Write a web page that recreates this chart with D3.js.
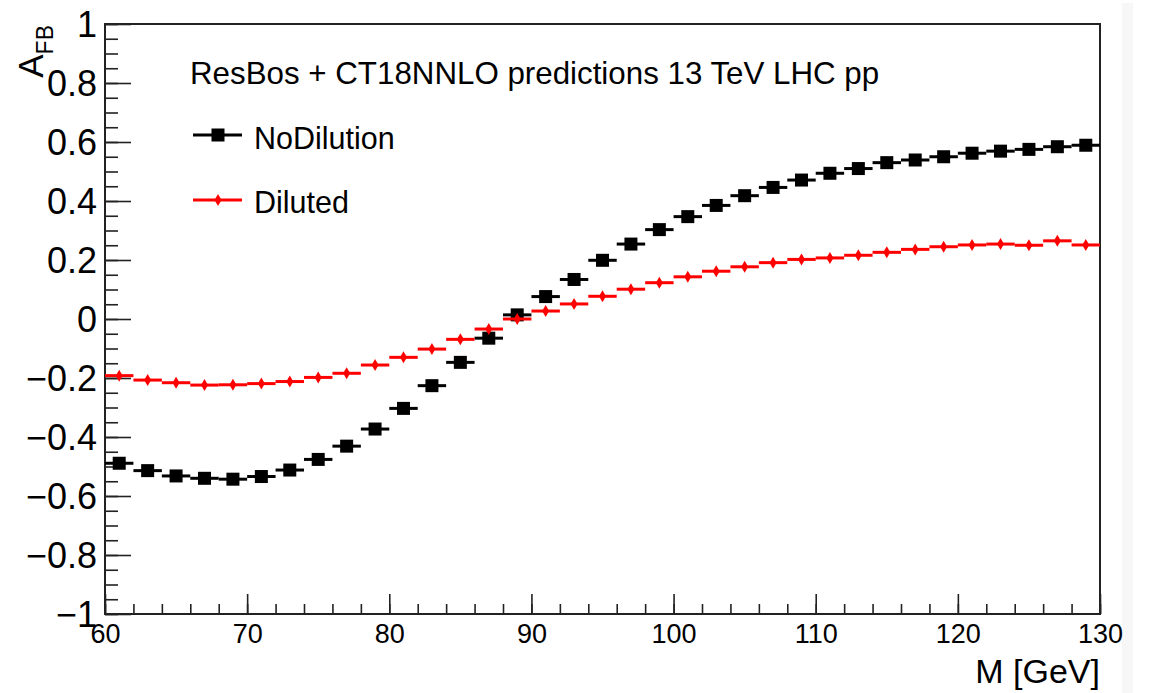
<!DOCTYPE html>
<html>
<head>
<meta charset="utf-8">
<script src="https://cdn.jsdelivr.net/npm/d3@7"></script>
<style>
  body { margin: 0; background: #fff; }
  svg { display: block; font-family: "Liberation Sans", Arial, Helvetica, sans-serif; }
</style>
</head>
<body>
<div class="chart"></div>
<script>
// Bin centres (GeV), bin width 2 GeV
var mass = [61, 63, 65, 67, 69, 71, 73, 75, 77, 79, 81, 83, 85, 87, 89, 91, 93, 95,
  97, 99, 101, 103, 105, 107, 109, 111, 113, 115, 117, 119, 121, 123, 125, 127, 129];
var binWidth = 2;

var noDilution = [-0.489, -0.514, -0.532, -0.540, -0.543, -0.534, -0.512, -0.476, -0.431,
  -0.373, -0.303, -0.226, -0.147, -0.065, 0.014, 0.076, 0.134, 0.199, 0.254, 0.303, 0.347,
  0.385, 0.418, 0.446, 0.471, 0.494, 0.510, 0.530, 0.539, 0.550, 0.562, 0.569, 0.575, 0.584, 0.589];

var diluted = [-0.192, -0.207, -0.216, -0.224, -0.223, -0.219, -0.212, -0.198, -0.184,
  -0.156, -0.130, -0.102, -0.069, -0.034, 0.000, 0.027, 0.051, 0.077, 0.101, 0.123, 0.143,
  0.162, 0.177, 0.191, 0.202, 0.207, 0.216, 0.226, 0.236, 0.245, 0.251, 0.254, 0.250, 0.265, 0.251];

var xTicks = [60, 70, 80, 90, 100, 110, 120, 130];
var yTicks = [-1, -0.8, -0.6, -0.4, -0.2, 0, 0.2, 0.4, 0.6, 0.8, 1];
var titleText = "ResBos + CT18NNLO predictions 13 TeV LHC pp";

// Chart Params
var svgWidth = 1150;
var svgHeight = 693;
var margin = { top: 24, right: 50, bottom: 79, left: 105 };
var width = svgWidth - margin.left - margin.right;
var height = svgHeight - margin.top - margin.bottom;

var svg = d3.select(".chart")
  .append("svg")
  .attr("width", svgWidth)
  .attr("height", svgHeight);

// faint strip at the right edge of the canvas
svg.append("rect")
  .attr("x", 1122).attr("y", 3).attr("width", 11).attr("height", 690)
  .attr("fill", "#f7f7f7");

var chartGroup = svg.append("g")
  .attr("transform", `translate(${margin.left}, ${margin.top})`);

var xScale = d3.scaleLinear().domain([60, 130]).range([0, width]);
var yScale = d3.scaleLinear().domain([-1, 1]).range([height, 0]);

var fmt = d => (d < 0 ? "\u2212" : "") + d3.format("")(Math.abs(+d.toFixed(1)));

// minor ticks
chartGroup.append("g")
  .attr("class", "minor")
  .call(d3.axisLeft(yScale).tickValues(d3.range(-1, 1.001, 0.05)).tickSize(-13).tickFormat(""));
chartGroup.append("g")
  .attr("class", "minor")
  .attr("transform", `translate(0, ${height})`)
  .call(d3.axisBottom(xScale).tickValues(d3.range(60, 130.1, 2)).tickSize(-10).tickFormat(""));

// major ticks + labels
var leftAxis = d3.axisLeft(yScale).tickValues(yTicks).tickSize(-26).tickPadding(8).tickFormat(fmt);
var bottomAxis = d3.axisBottom(xScale).tickValues(xTicks).tickSize(-20).tickPadding(8).tickFormat(d3.format("d"));

var yAxisG = chartGroup.append("g").call(leftAxis);
yAxisG.selectAll("text").attr("font-size", 36).attr("fill", "#000").attr("x", -8).attr("dy", "0.36em");

var xAxisG = chartGroup.append("g")
  .attr("transform", `translate(0, ${height})`)
  .call(bottomAxis);
xAxisG.selectAll("text").attr("font-size", 27).attr("fill", "#000").attr("y", 29).attr("dy", 0);

chartGroup.selectAll(".domain").remove();
chartGroup.selectAll(".tick line").attr("stroke", "#222").attr("stroke-width", 1.6);

// frame
chartGroup.append("rect")
  .attr("width", width).attr("height", height)
  .attr("fill", "none").attr("stroke", "#222").attr("stroke-width", 2);

// Data: black squares with bin-width bars
var blackData = mass.map((m, i) => ({ m: m, v: noDilution[i] }));
var redData = mass.map((m, i) => ({ m: m, v: diluted[i] }));

var blk = chartGroup.append("g");
blk.selectAll("line").data(blackData).enter().append("line")
  .attr("x1", d => xScale(d.m - binWidth / 2))
  .attr("x2", d => xScale(d.m + binWidth / 2))
  .attr("y1", d => yScale(d.v)).attr("y2", d => yScale(d.v))
  .attr("stroke", "#000").attr("stroke-width", 3);
blk.selectAll("rect").data(blackData).enter().append("rect")
  .attr("x", d => xScale(d.m) - 6.5).attr("y", d => yScale(d.v) - 6.5)
  .attr("width", 13).attr("height", 13).attr("fill", "#000");

var diamond = "M0,-6L3.5,0L0,6L-3.5,0Z";
var red = chartGroup.append("g");
red.selectAll("line").data(redData).enter().append("line")
  .attr("x1", d => xScale(d.m - binWidth / 2))
  .attr("x2", d => xScale(d.m + binWidth / 2))
  .attr("y1", d => yScale(d.v)).attr("y2", d => yScale(d.v))
  .attr("stroke", "#ff0000").attr("stroke-width", 3);
red.selectAll("path").data(redData).enter().append("path")
  .attr("d", diamond)
  .attr("transform", d => `translate(${xScale(d.m)}, ${yScale(d.v)})`)
  .attr("fill", "#ff0000");

// Title
svg.append("text")
  .attr("x", 190).attr("y", 84)
  .attr("font-size", 31.3).attr("fill", "#000")
  .text(titleText);

// Legend
var legend = svg.append("g");
legend.append("line").attr("x1", 193).attr("x2", 242).attr("y1", 135).attr("y2", 135)
  .attr("stroke", "#000").attr("stroke-width", 3);
legend.append("rect").attr("x", 218 - 6.5).attr("y", 135 - 6.5).attr("width", 13).attr("height", 13).attr("fill", "#000");
legend.append("text").attr("x", 254).attr("y", 149).attr("font-size", 30.5).text("NoDilution");

legend.append("line").attr("x1", 193).attr("x2", 242).attr("y1", 200).attr("y2", 200)
  .attr("stroke", "#ff0000").attr("stroke-width", 3);
legend.append("path").attr("d", diamond).attr("transform", "translate(218, 200)").attr("fill", "#ff0000");
legend.append("text").attr("x", 254).attr("y", 213).attr("font-size", 30.5).text("Diluted");

// Axis titles
svg.append("text")
  .attr("x", 1100).attr("y", 683)
  .attr("text-anchor", "end").attr("font-size", 34)
  .text("M [GeV]");

var yTitle = svg.append("text")
  .attr("transform", "translate(43, 25) rotate(-90)")
  .attr("text-anchor", "end");
yTitle.append("tspan").attr("font-size", 35).text("A");
yTitle.append("tspan").attr("font-size", 23).attr("dy", 10).text("FB");
</script>
</body>
</html>
